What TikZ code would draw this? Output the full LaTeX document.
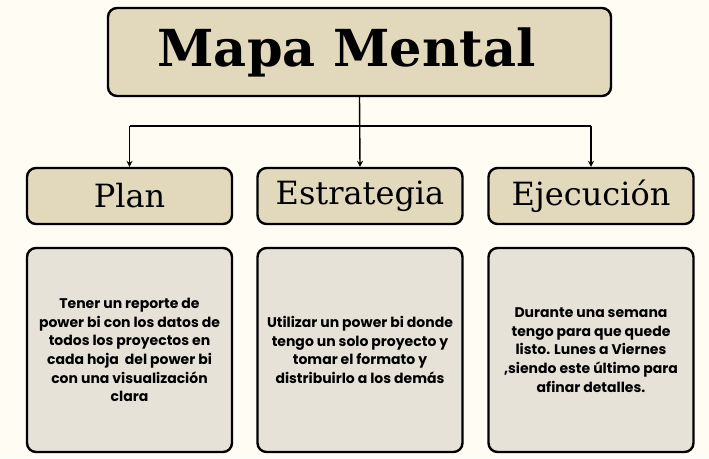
\documentclass[tikz,border=0pt]{standalone}
\usepackage{fontspec}
\setmainfont{DejaVu Serif}
\newfontfamily\bodyfont{Poppins}
\usetikzlibrary{arrows.meta}

\definecolor{paper}{HTML}{FFFCF3}
\definecolor{headfill}{HTML}{E2D9BC}
\definecolor{notefill}{HTML}{E6E2D8}

\tikzset{
  box/.style={draw=black, line width=2.4pt, rounded corners=9pt, inner sep=0pt},
  titlebox/.style={box, fill=headfill, minimum width=503pt, minimum height=88pt,
    font=\bfseries\fontsize{51}{60}\selectfont},
  headbox/.style={box, fill=headfill, minimum width=205pt, minimum height=56pt,
    font=\fontsize{32}{38}\selectfont},
  notebox/.style={box, fill=notefill, minimum width=205pt, minimum height=204pt,
    align=center, font=\bodyfont\bfseries\fontsize{14}{18.7}\selectfont},
  link/.style={line width=1.4pt, -{Stealth[length=6pt,width=6pt]}}
}

\begin{document}
\begin{tikzpicture}[x=1pt,y=1pt,yscale=-1,xscale=1]
    \useasboundingbox[fill=paper] (0,0) rectangle (709,458);

    % Title
    \node [titlebox] (mapa) at (359.5,52) {Mapa Mental\hspace*{26pt}};

    % Headers
    \node [headbox] (plan) at (129.5,196) {Plan};
    \node [headbox] (estrategia) at (360,196) {Estrategia};
    \node [headbox] (ejecucion) at (591,196) {Ejecución};

    % Notes
    \node [notebox] (planTxt) at (129.5,350) {Tener un reporte de\\power bi con los datos de\\todos los proyectos en\\cada hoja\ \ del power bi\\con una visualización\\clara};
    \node [notebox] (estrategiaTxt) at (360,350) {Utilizar un power bi donde\\tengo un solo proyecto y\\tomar el formato y\\distribuirlo a los demás};
    \node [notebox] (ejecucionTxt) at (591,350) {Durante una semana\\tengo para que quede\\listo. Lunes a Viernes\\,siendo este último para\\afinar detalles.};

    % Connectors
    \coordinate (leftEnd) at (129.5,126);
    \coordinate (rightEnd) at (591,126);
    \draw [line width=1.4pt] (leftEnd) -- (rightEnd);
    \draw [link] (mapa.south) -- (estrategia.north);
    \draw [link] (leftEnd) -- (plan.north);
    \draw [link] (rightEnd) -- (ejecucion.north);

\end{tikzpicture}
\end{document}
